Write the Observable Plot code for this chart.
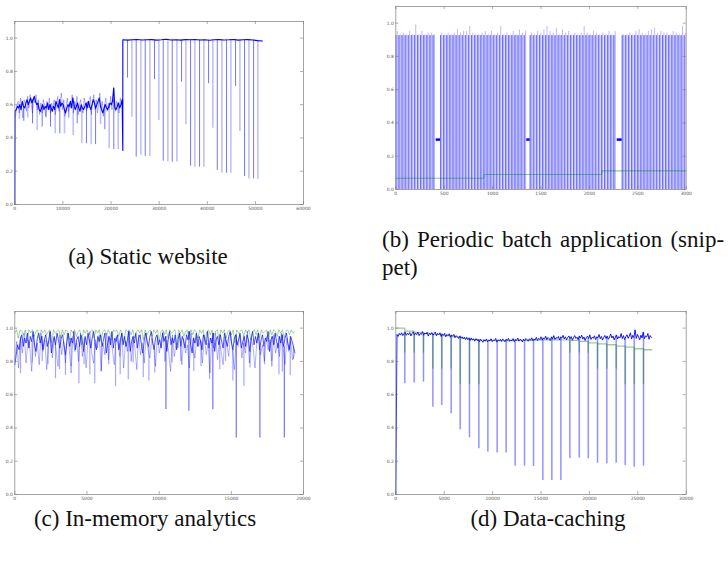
<!DOCTYPE html>
<html>
<head>
<meta charset="utf-8">
<script src="https://cdn.jsdelivr.net/npm/d3@7"></script>
<script src="https://cdn.jsdelivr.net/npm/@observablehq/plot@0.6"></script>
<style>
  body { margin: 0; background: #fff; }
  #fig { position: relative; width: 728px; height: 563px; overflow: hidden; background: #fff; }
  .panel { position: absolute; }
  .cap { position: absolute; font-family: "Liberation Serif", "DejaVu Serif", serif; font-size: 23px; color: #111; white-space: nowrap; line-height: 1; }
  .cap.center { text-align: center; width: 400px; }
</style>
</head>
<body>
<div id="fig"></div>
<script>
// ---------- (a) Static website ----------
const aSeg1Start = 50, aSeg1Step = 250;          // fine sampling before the step
const aSeg1Dark = [
  0.56,0.57,0.59,0.58,0.60,0.57,0.62,0.59,0.58,0.61,
  0.63,0.60,0.62,0.64,0.61,0.63,0.65,0.62,0.60,0.61,
  0.57,0.56,0.58,0.60,0.57,0.59,0.58,0.61,0.57,0.60,
  0.58,0.56,0.59,0.57,0.62,0.60,0.58,0.63,0.59,0.61,
  0.60,0.57,0.55,0.58,0.60,0.59,0.62,0.58,0.64,0.60,
  0.57,0.59,0.61,0.58,0.56,0.60,0.58,0.57,0.59,0.61,
  0.58,0.62,0.59,0.57,0.60,0.63,0.61,0.58,0.60,0.62,
  0.64,0.59,0.57,0.55,0.58,0.60,0.58,0.57,0.59,0.61,
  0.60,0.62,0.70,0.58,0.57,0.59,0.61,0.58,0.60,0.63
];
const aSeg1LightStart = 175;
const aSeg1Light = [
  0.53,0.60,0.62,0.55,0.64,0.59,0.52,0.63,0.61,0.56,
  0.65,0.58,0.66,0.60,0.55,0.64,0.61,0.66,0.57,0.63,
  0.54,0.61,0.55,0.63,0.60,0.53,0.62,0.57,0.64,0.55,
  0.61,0.58,0.63,0.54,0.60,0.65,0.56,0.62,0.67,0.57,
  0.63,0.53,0.60,0.64,0.56,0.61,0.58,0.66,0.55,0.62,
  0.59,0.65,0.54,0.60,0.63,0.57,0.55,0.64,0.60,0.56,
  0.62,0.58,0.65,0.54,0.61,0.66,0.57,0.63,0.55,0.60,
  0.67,0.58,0.62,0.53,0.60,0.64,0.56,0.61,0.58,0.65,
  0.57,0.63,0.60,0.56,0.62,0.59,0.55,0.64,0.60,0.62
];
const aStepX = 22450, aStepLow = 0.325;
const aSeg2Step = 1000;
const aSeg2 = [
  0.99,0.988,0.99,0.992,0.989,0.99,0.991,0.988,0.99,0.993,
  0.989,0.99,0.988,0.991,0.99,0.992,0.989,0.99,0.987,0.99,
  0.991,0.989,0.99,0.992,0.988,0.99,0.991,0.989,0.985,0.983
];
const aDipX = [980,1870,2700,3680,4650,5690,6530,7420,8400,9360,10330,11230,12140,12970,13930,14900,15880,16790,17820,18710,19620,20580,21490,
  23430,24330,25230,26200,27110,28070,29040,29940,30850,31810,32720,33680,34660,35550,36530,37420,38400,39300,40270,41160,42080,43040,44010,44900,45880,46780,47750,48650,49630,50520];
const aDipY = [0.51,0.50,0.52,0.485,0.445,0.465,0.52,0.465,0.425,0.425,0.425,0.52,0.415,0.485,0.365,0.365,0.36,0.36,0.48,0.45,0.335,0.33,0.33,
  0.76,0.525,0.285,0.295,0.289,0.289,0.75,0.505,0.26,0.257,0.255,0.255,0.735,0.479,0.23,0.224,0.224,0.224,0.726,0.459,0.204,0.19,0.188,0.188,0.71,0.439,0.168,0.154,0.154,0.15];
const aXTicks = [0,10000,20000,30000,40000,50000,60000];

// ---------- (b) Periodic batch application ----------
const bPeriod = 32;
const bSegStart = [0, 462, 1388, 2339];
const bPlateau = 0.925;
const bTop1 = [0.95,0.93,0.94,0.93,0.95,0.93,0.99,0.93,0.95,0.93,0.94,0.94,0.93];
const bTop2 = [0.94,0.93,0.94,0.93,0.94,0.96,0.94,0.95,0.95,0.98,0.94,0.93,0.93,0.94,0.95,0.93,0.95,0.93,0.94,0.98,0.93,0.94,0.92,0.95,0.93,0.96,0.94,0.95];
const bTop3 = [0.94,0.93,0.95,0.94,0.96,0.98,0.95,0.94,0.97,0.93,0.96,0.94,0.95,0.93,0.94,0.93,0.94,0.98,0.94,0.93,0.95,0.94,0.93,0.94,0.93,0.95,0.93,0.95];
const bTop4 = [0.93,0.93,0.94,0.93,0.95,0.96,0.94,0.93,0.95,0.96,0.97,0.94,0.95,0.94,0.94,0.93,0.95,0.94,0.93,0.98,0.94];
const bGapX1 = [417, 1353, 2287];
const bGapX2 = [462, 1388, 2339];
const bGapLevel = [0.30, 0.30, 0.30];
const bGreenX = [0, 909, 2128, 3000];
const bGreenY = [0.068, 0.09, 0.112, 0.112];
const bXTicks = [0,500,1000,1500,2000,2500,3000];

// ---------- (c) In-memory analytics ----------
const cBlueStep = 97.5;
const cBlue = [
  0.78,0.84,0.90,0.87,0.93,0.96,0.89,0.94,0.91,0.97,
  0.88,0.95,0.92,0.98,0.90,0.86,0.94,0.97,0.91,0.95,
  0.87,0.93,0.96,0.89,0.92,0.98,0.85,0.91,0.95,0.90,
  0.97,0.93,0.88,0.94,0.96,0.90,0.84,0.92,0.97,0.89,
  0.94,0.91,0.98,0.87,0.93,0.95,0.89,0.96,0.92,0.86,
  0.95,0.90,0.97,0.93,0.88,0.94,0.98,0.91,0.87,0.95,
  0.92,0.96,0.89,0.93,0.97,0.85,0.91,0.95,0.90,0.98,
  0.88,0.94,0.92,0.96,0.87,0.93,0.97,0.90,0.95,0.89,
  0.93,0.98,0.86,0.92,0.95,0.91,0.97,0.88,0.94,0.96,
  0.90,0.85,0.93,0.97,0.92,0.89,0.95,0.98,0.91,0.87,
  0.94,0.96,0.90,0.93,0.88,0.97,0.92,0.95,0.86,0.93,
  0.98,0.90,0.94,0.91,0.96,0.87,0.93,0.97,0.89,0.95,
  0.92,0.88,0.96,0.93,0.98,0.90,0.85,0.94,0.91,0.97,
  0.89,0.95,0.92,0.87,0.96,0.93,0.90,0.98,0.88,0.94,
  0.91,0.97,0.86,0.93,0.95,0.90,0.96,0.92,0.88,0.97,
  0.93,0.89,0.95,0.98,0.91,0.87,0.94,0.96,0.90,0.93,
  0.97,0.88,0.92,0.95,0.89,0.96,0.93,0.86,0.94,0.98,
  0.90,0.95,0.91,0.97,0.87,0.93,0.96,0.89,0.94,0.92,
  0.98,0.86,0.93,0.95,0.90,0.97,0.92,0.88,0.95,0.91,
  0.96,0.89,0.94,0.97,0.91,0.87,0.95,0.92,0.89,0.85
];
const cLightStep = 130;
const cLight = [
  0.80,0.92,0.76,0.95,0.85,0.97,0.79,0.93,0.88,0.74,
  0.96,0.83,0.91,0.78,0.97,0.86,0.93,0.75,0.90,0.98,
  0.82,0.94,0.87,0.77,0.96,0.84,0.92,0.79,0.97,0.88,
  0.73,0.95,0.86,0.91,0.80,0.97,0.83,0.94,0.76,0.92,
  0.98,0.85,0.79,0.93,0.88,0.96,0.74,0.91,0.84,0.97,
  0.81,0.94,0.87,0.78,0.95,0.90,0.83,0.97,0.76,0.92,
  0.86,0.98,0.80,0.93,0.88,0.75,0.96,0.84,0.91,0.79,
  0.97,0.87,0.82,0.94,0.89,0.77,0.95,0.85,0.92,0.98,
  0.80,0.93,0.86,0.74,0.96,0.83,0.91,0.88,0.97,0.78,
  0.94,0.85,0.90,0.76,0.97,0.87,0.82,0.95,0.89,0.93,
  0.79,0.96,0.84,0.91,0.73,0.94,0.88,0.97,0.81,0.92,
  0.86,0.78,0.95,0.90,0.83,0.97,0.87,0.75,0.93,0.89,
  0.96,0.82,0.91,0.85,0.98,0.79,0.94,0.88,0.76,0.92,
  0.97,0.84,0.90,0.80,0.95,0.87,0.93,0.77,0.96,0.85,
  0.91,0.83,0.97,0.88,0.78,0.94,0.86,0.92,0.81,0.84
];
const cGreenStep = 122;
const cGreen = [
  0.97,0.99,0.94,0.99,0.98,0.96,0.99,0.92,0.99,0.97,
  0.99,0.95,0.98,0.99,0.93,0.99,0.97,0.99,0.96,0.98,
  0.99,0.91,0.99,0.97,0.98,0.99,0.94,0.99,0.96,0.99,
  0.98,0.93,0.99,0.97,0.99,0.95,0.98,0.99,0.90,0.99,
  0.97,0.99,0.96,0.98,0.99,0.94,0.99,0.97,0.99,0.92,
  0.98,0.99,0.96,0.99,0.97,0.93,0.99,0.98,0.99,0.95,
  0.99,0.97,0.91,0.99,0.98,0.99,0.96,0.99,0.94,0.98,
  0.99,0.97,0.99,0.93,0.99,0.96,0.98,0.99,0.95,0.99,
  0.97,0.99,0.92,0.98,0.99,0.96,0.99,0.94,0.99,0.97,
  0.98,0.99,0.90,0.99,0.97,0.99,0.95,0.98,0.99,0.93,
  0.99,0.96,0.99,0.98,0.94,0.99,0.97,0.99,0.92,0.98,
  0.99,0.96,0.99,0.95,0.98,0.99,0.93,0.99,0.97,0.99,
  0.94,0.98,0.99,0.96,0.99,0.91,0.99,0.97,0.98,0.99,
  0.95,0.99,0.97,0.99,0.93,0.98,0.99,0.96,0.99,0.94,
  0.99,0.97,0.98,0.99,0.92,0.99,0.96,0.99,0.98,0.95,
  0.99,0.97,0.99,0.94,0.98,0.99,0.96,0.99,0.97,0.98
];
const cDipX = [395,1200,1900,2300,2820,3100,3510,3900,4440,4800,5200,5540,6000,6500,6980,7300,7860,8200,8900,9290,9700,10900,11500,12400,12900,13490,14200,14600,15110,15870,16300,17300,17800,18300,18530,19080,19300];
const cDipY = [0.726,0.79,0.80,0.78,0.696,0.75,0.716,0.77,0.666,0.78,0.72,0.666,0.74,0.78,0.649,0.72,0.69,0.79,0.702,0.682,0.73,0.79,0.80,0.74,0.77,0.69,0.75,0.80,0.682,0.651,0.76,0.78,0.80,0.72,0.736,0.716,0.81];
const cBigDipX = [10470,12060,13720,15340,16980,18670];
const cBigDipY = [0.511,0.50,0.51,0.339,0.339,0.339];
const cXTicks = [0,5000,10000,15000,20000];

// ---------- (d) Data-caching ----------
const dBlueStep = 120;
const dBlue = [
  0.0,
  0.962,0.950,0.968,0.958,0.972,0.955,0.966,0.975,0.957,0.969,
  0.960,0.974,0.953,0.967,0.978,0.958,0.970,0.961,0.976,0.955,
  0.968,0.962,0.979,0.957,0.971,0.964,0.975,0.952,0.969,0.960,
  0.973,0.958,0.966,0.977,0.954,0.968,0.961,0.972,0.950,0.964,
  0.957,0.969,0.948,0.962,0.955,0.966,0.945,0.958,0.951,0.962,
  0.943,0.955,0.947,0.938,0.952,0.941,0.948,0.936,0.945,0.932,
  0.944,0.930,0.939,0.926,0.941,0.929,0.935,0.922,0.936,0.925,
  0.931,0.918,0.933,0.924,0.915,0.930,0.921,0.934,0.917,0.928,
  0.923,0.936,0.919,0.929,0.925,0.938,0.916,0.930,0.924,0.933,
  0.920,0.935,0.927,0.918,0.932,0.926,0.939,0.921,0.930,0.924,
  0.937,0.919,0.931,0.926,0.940,0.922,0.933,0.928,0.917,0.934,
  0.925,0.938,0.930,0.921,0.936,0.927,0.942,0.924,0.933,0.929,
  0.945,0.926,0.938,0.931,0.948,0.929,0.940,0.935,0.952,0.930,
  0.944,0.937,0.926,0.947,0.934,0.955,0.932,0.943,0.938,0.950,
  0.929,0.946,0.940,0.957,0.935,0.948,0.931,0.944,0.953,0.936,
  0.949,0.927,0.942,0.955,0.938,0.946,0.930,0.951,0.940,0.958,
  0.934,0.947,0.925,0.943,0.952,0.937,0.960,0.932,0.945,0.939,
  0.954,0.931,0.948,0.942,0.962,0.936,0.950,0.928,0.944,0.956,
  0.938,0.951,0.933,0.947,0.965,0.940,0.953,0.929,0.946,0.958,
  0.935,0.949,0.942,0.968,0.937,0.955,0.931,0.948,0.960,0.939,
  0.952,0.972,0.934,0.957,0.944,0.990,0.938,0.962,0.946,0.930,
  0.958,0.941,0.975,0.936,0.953,0.947,0.968,0.933,0.955,0.944
];
const dDipX = [930,1900,2860,3830,4750,5720,6650,7610,8580,9510,10470,11400,12330,13300,14230,15190,16120,17050,17980,18950,19880,20840,21800,22770,23700,24630,25590];
const dDipY = [0.666,0.67,0.676,0.525,0.535,0.485,0.389,0.341,0.275,0.255,0.25,0.25,0.17,0.17,0.168,0.084,0.084,0.084,0.215,0.219,0.215,0.188,0.184,0.188,0.174,0.164,0.17];
// cache level between consecutive refreshes, and how far it falls at each refresh
const dGreenLevel = [1.0,0.982,0.975,0.968,0.962,0.955,0.948,0.94,0.932,0.928,0.926,0.925,0.925,0.926,0.927,0.928,0.929,0.93,0.93,0.926,0.92,0.912,0.906,0.90,0.892,0.886,0.876,0.87];
const dGreenDip = [0.856,0.856,0.856,0.76,0.76,0.76,0.666,0.666,0.666,null,null,null,null,null,null,null,null,null,0.856,0.856,0.856,0.76,0.76,0.76,0.666,0.666,0.666];
const dEndX = 26450;
const dXTicks = [0,5000,10000,15000,20000,25000,30000];

const yTicks = [0,0.2,0.4,0.6,0.8,1.0];
const yDomain = [0, 1.1];

// ---------- helpers ----------
const BLUE = "#0000ff", GREEN = "#008000";
const series = (vals, start, step) => vals.map((y, i) => ({x: start + i * step, y}));
const nearestY = (pts, x) => d3.least(pts, p => Math.abs(p.x - x)).y;

function chrome(xTicks, innerH, innerW) {
  const tick = {stroke: "#777", strokeWidth: 0.6};
  return [
    Plot.frame({stroke: "#9a9a9a", strokeWidth: 0.9}),
    Plot.ruleX(xTicks, {x: d => d, insetTop: innerH - 3, ...tick}),
    Plot.ruleX(xTicks, {x: d => d, insetBottom: innerH - 3, ...tick}),
    Plot.ruleY(yTicks, {y: d => d, insetRight: innerW - 3, ...tick}),
    Plot.ruleY(yTicks, {y: d => d, insetLeft: innerW - 3, ...tick}),
    Plot.axisX(xTicks, {tickSize: 0, tickPadding: 2.5, fontSize: 4.5, fill: "#555", tickFormat: d => String(d), label: null}),
    Plot.axisY(yTicks, {tickSize: 0, tickPadding: 2, fontSize: 4.5, fill: "#555", tickFormat: d3.format(".1f"), label: null})
  ];
}

function panel({left, top, width, height, margin, xDomain, xTicks, marks}) {
  const [mt, mr, mb, ml] = margin;
  const innerW = width - ml - mr, innerH = height - mt - mb;
  const svg = Plot.plot({
    width, height,
    marginTop: mt, marginRight: mr, marginBottom: mb, marginLeft: ml,
    style: {fontFamily: "DejaVu Sans, sans-serif", background: "transparent", overflow: "visible"},
    x: {domain: xDomain},
    y: {domain: yDomain},
    marks: [...marks, ...chrome(xTicks, innerH, innerW)]
  });
  svg.classList.add("panel");
  svg.style.left = left + "px";
  svg.style.top = top + "px";
  document.getElementById("fig").appendChild(svg);
}

function caption(text, {center, left, top, wordSpacing}) {
  const d = document.createElement("div");
  d.className = "cap" + (center != null ? " center" : "");
  d.textContent = text;
  d.style.left = (center != null ? center - 200 : left) + "px";
  d.style.top = top + "px";
  if (wordSpacing) d.style.wordSpacing = wordSpacing + "px";
  document.getElementById("fig").appendChild(d);
}

// ---------- (a) ----------
{
  const seg1 = series(aSeg1Dark, aSeg1Start, aSeg1Step);
  const seg2 = series(aSeg2, aStepX, aSeg2Step);
  const dark = [{x: 0, y: 0}, ...seg1, {x: aStepX, y: aStepLow}, ...seg2];
  const light = series(aSeg1Light, aSeg1LightStart, aSeg1Step);
  const base = [...seg1, ...seg2];
  const dips = aDipX.map((x, i) => ({x, y1: aDipY[i], y2: nearestY(base, x), k: i}));
  panel({
    left: 0, top: 0, width: 320, height: 215, margin: [21, 17, 11, 14.3],
    xDomain: [0, 60000], xTicks: aXTicks,
    marks: [
      Plot.line(light, {x: "x", y: "y", stroke: BLUE, strokeOpacity: 0.3, strokeWidth: 1}),
      Plot.ruleX(dips.filter(d => d.k % 2 === 0), {x: "x", y1: "y1", y2: "y2", stroke: BLUE, strokeOpacity: 0.25, strokeWidth: 1.6}),
      Plot.ruleX(dips.filter(d => d.k % 2 === 1), {x: "x", y1: "y1", y2: "y2", stroke: BLUE, strokeOpacity: 0.55, strokeWidth: 1}),
      Plot.line(dark, {x: "x", y: "y", stroke: BLUE, strokeWidth: 1.1})
    ]
  });
}

// ---------- (b) ----------
{
  const cycles = [bTop1, bTop2, bTop3, bTop4].flatMap((tops, s) =>
    tops.map((t, k) => ({x: bSegStart[s] + k * bPeriod, top: t})));
  const gaps = bGapX1.map((x1, i) => ({x1, x2: bGapX2[i], y: bGapLevel[i]}));
  const green = bGreenX.map((x, i) => ({x, y: bGreenY[i]}));
  panel({
    left: 380, top: 0, width: 320, height: 200, margin: [6, 14.3, 11, 15.3],
    xDomain: [0, 3000], xTicks: bXTicks,
    marks: [
      Plot.rectY(cycles, {x1: "x", x2: d => d.x + bPeriod * 0.8, y1: 0, y2: bPlateau, fill: "#b3b3ff", clip: true}),
      Plot.ruleX(cycles, {x: d => d.x + bPeriod * 0.45, y1: bPlateau, y2: "top", stroke: "#a8a8ff", strokeWidth: 0.8, clip: true}),
      Plot.ruleX(cycles, {x: "x", y1: 0, y2: bPlateau, stroke: "#6d6dff", strokeWidth: 1, clip: true}),
      Plot.ruleY(gaps, {y: "y", x1: "x1", x2: "x2", stroke: BLUE, strokeWidth: 2.5}),
      Plot.line(green, {x: "x", y: "y", curve: "step-after", stroke: GREEN, strokeOpacity: 0.45, strokeWidth: 1.1})
    ]
  });
}

// ---------- (c) ----------
{
  const blue = series(cBlue, 0, cBlueStep);
  const light = series(cLight, 0, cLightStep);
  const green = series(cGreen, 0, cGreenStep);
  const dips = cDipX.map((x, i) => ({x, y1: cDipY[i], y2: nearestY(blue, x)}));
  const big = cBigDipX.map((x, i) => ({x, y1: cBigDipY[i], y2: nearestY(blue, x)}));
  panel({
    left: 0, top: 300, width: 320, height: 205, margin: [11, 17, 11, 14.3],
    xDomain: [0, 20000], xTicks: cXTicks,
    marks: [
      Plot.line(light, {x: "x", y: "y", stroke: BLUE, strokeOpacity: 0.3, strokeWidth: 1}),
      Plot.ruleX(dips, {x: "x", y1: "y1", y2: "y2", stroke: BLUE, strokeOpacity: 0.35, strokeWidth: 1.2}),
      Plot.ruleX(big, {x: "x", y1: "y1", y2: "y2", stroke: BLUE, strokeOpacity: 0.6, strokeWidth: 1.1}),
      Plot.line(blue, {x: "x", y: "y", stroke: BLUE, strokeWidth: 0.8, strokeOpacity: 0.85}),
      Plot.line(green, {x: "x", y: "y", stroke: GREEN, strokeOpacity: 0.45, strokeWidth: 0.8})
    ]
  });
}

// ---------- (d) ----------
{
  const blue = series(dBlue, 0, dBlueStep);
  const dips = dDipX.map((x, i) => ({x, y1: dDipY[i], y2: nearestY(blue, x)}));
  const green = [{x: 0, y: dGreenLevel[0]}];
  dDipX.forEach((x, i) => {
    green.push({x, y: dGreenLevel[i]});
    if (dGreenDip[i] != null) green.push({x, y: dGreenDip[i]});
    green.push({x, y: dGreenLevel[i + 1]});
  });
  green.push({x: dEndX, y: dGreenLevel[dGreenLevel.length - 1]});
  panel({
    left: 380, top: 300, width: 320, height: 205, margin: [11, 14.3, 11, 15.3],
    xDomain: [0, 30000], xTicks: dXTicks,
    marks: [
      Plot.ruleX(dips, {x: "x", y1: "y1", y2: "y2", stroke: BLUE, strokeOpacity: 0.28, strokeWidth: 1.8}),
      Plot.ruleX(dips, {x: "x", y1: "y1", y2: "y2", stroke: BLUE, strokeOpacity: 0.3, strokeWidth: 0.7}),
      Plot.line(green, {x: "x", y: "y", stroke: GREEN, strokeOpacity: 0.4, strokeWidth: 1.3}),
      Plot.line(blue, {x: "x", y: "y", stroke: BLUE, strokeWidth: 0.9})
    ]
  });
}

// ---------- captions ----------
caption("(a) Static website", {center: 148, top: 245});
caption("(b) Periodic batch application (snip-", {left: 382, top: 228, wordSpacing: 2.5});
caption("pet)", {left: 382, top: 256});
caption("(c) In-memory analytics", {center: 145, top: 507});
caption("(d) Data-caching", {center: 548, top: 507});
</script>
</body>
</html>
